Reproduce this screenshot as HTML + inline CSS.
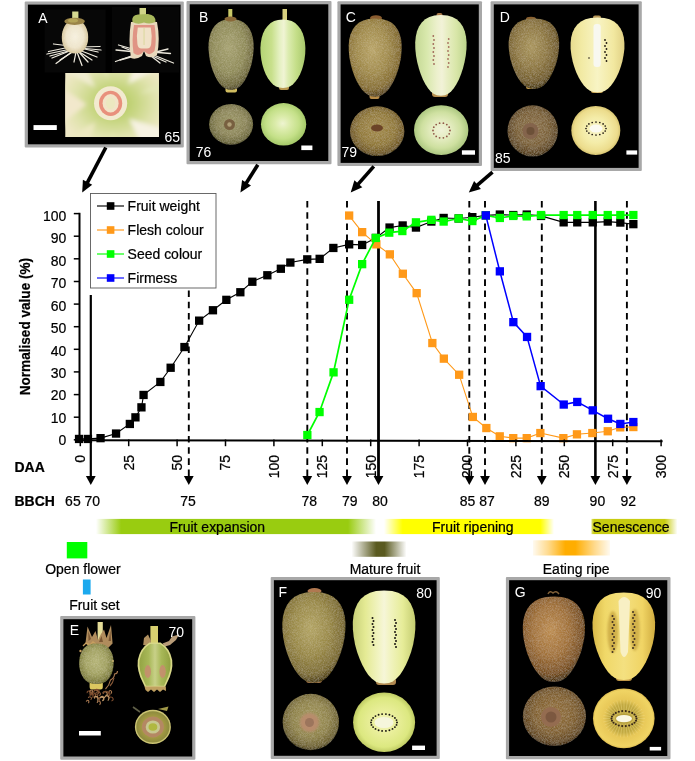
<!DOCTYPE html>
<html lang="en"><head><meta charset="utf-8"><title>Fruit development</title>
<style>html,body{margin:0;padding:0;background:#fff}svg{display:block}text{font-family:"Liberation Sans", Arial, sans-serif;font-size:14px;fill:#000;stroke:#000;stroke-width:0.22px}.b{font-weight:bold}.w{fill:#fff;stroke:none}</style>
</head><body>
<svg width="695" height="761" viewBox="0 0 695 761">
<rect width="695" height="761" fill="#fff"/>
<defs>
<linearGradient id="gExp" x1="0" x2="1" y1="0" y2="0">
<stop offset="0" stop-color="#99cc10" stop-opacity="0"/><stop offset="0.09" stop-color="#99cc10"/>
<stop offset="0.9" stop-color="#99cc10"/><stop offset="1" stop-color="#99cc10" stop-opacity="0"/></linearGradient>
<linearGradient id="gRip" x1="0" x2="1" y1="0" y2="0">
<stop offset="0" stop-color="#ffff00" stop-opacity="0"/><stop offset="0.11" stop-color="#ffff00"/>
<stop offset="0.92" stop-color="#ffff00"/><stop offset="1" stop-color="#ffff00" stop-opacity="0"/></linearGradient>
<linearGradient id="gSen" x1="0" x2="1" y1="0" y2="0">
<stop offset="0" stop-color="#c8cc10" stop-opacity="0.6"/><stop offset="0.03" stop-color="#c8cc10"/>
<stop offset="0.85" stop-color="#c8cc10"/><stop offset="1" stop-color="#c8cc10" stop-opacity="0"/></linearGradient>
<linearGradient id="gMat" x1="0" x2="1" y1="0" y2="0">
<stop offset="0" stop-color="#5a5a20" stop-opacity="0"/><stop offset="0.45" stop-color="#5a5a20"/>
<stop offset="0.6" stop-color="#5a5a20"/><stop offset="1" stop-color="#5a5a20" stop-opacity="0"/></linearGradient>
<linearGradient id="gEat" x1="0" x2="1" y1="0" y2="0">
<stop offset="0" stop-color="#ffad00" stop-opacity="0.06"/><stop offset="0.2" stop-color="#ffad00" stop-opacity="0.45"/><stop offset="0.42" stop-color="#ffad00"/>
<stop offset="0.55" stop-color="#ffad00"/><stop offset="0.8" stop-color="#ffad00" stop-opacity="0.45"/><stop offset="1" stop-color="#ffad00" stop-opacity="0.06"/></linearGradient>

<filter id="fz" x="0" y="0" width="100%" height="100%"><feTurbulence type="fractalNoise" baseFrequency="1.5" numOctaves="1" seed="3" result="n"/><feColorMatrix in="n" type="matrix" values="0 0 0 0 1  0 0 0 0 0.94  0 0 0 0 0.72  0.32 0 0 0 -0.11" result="n2"/><feComposite in="n2" in2="SourceGraphic" operator="in" result="n3"/><feMerge><feMergeNode in="SourceGraphic"/><feMergeNode in="n3"/></feMerge></filter>
<filter id="bl1" x="-20%" y="-20%" width="140%" height="140%"><feGaussianBlur stdDeviation="0.6"/></filter>
<filter id="bl2" x="-20%" y="-20%" width="140%" height="140%"><feGaussianBlur stdDeviation="2.2"/></filter>
<filter id="bl3" x="-20%" y="-20%" width="140%" height="140%"><feGaussianBlur stdDeviation="1"/></filter>
<radialGradient id="r1" cx="0.5" cy="0.5" r="0.55"><stop offset="0" stop-color="#f6f0e0"/><stop offset="0.6" stop-color="#eee4cc"/><stop offset="0.9" stop-color="#d8c8a0"/><stop offset="1" stop-color="#b09c70"/></radialGradient>
<clipPath id="cpA"><rect x="65.3" y="73" width="93.6" height="64"/></clipPath>
<radialGradient id="r2" cx="0.5" cy="0.5" r="0.5"><stop offset="0" stop-color="#b0c658"/><stop offset="0.35" stop-color="#c4d47c"/><stop offset="0.7" stop-color="#dee2aa"/><stop offset="1" stop-color="#efe8c6"/></radialGradient>
<radialGradient id="r3" cx="0.45" cy="0.4" r="0.6"><stop offset="0" stop-color="#a6a272"/><stop offset="0.6" stop-color="#8e8a58"/><stop offset="0.9" stop-color="#6e683c"/><stop offset="1" stop-color="#4a4424"/></radialGradient>
<linearGradient id="l4" x1="0" y1="0" x2="1" y2="0"><stop offset="0" stop-color="#b4d474"/><stop offset="0.25" stop-color="#c8e08c"/><stop offset="0.42" stop-color="#e4f0c0"/><stop offset="0.52" stop-color="#f0f4d4"/><stop offset="0.62" stop-color="#dcecb0"/><stop offset="0.8" stop-color="#c4de88"/><stop offset="1" stop-color="#a8c86c"/></linearGradient>
<radialGradient id="r5" cx="0.5" cy="0.45" r="0.55"><stop offset="0" stop-color="#9c9868"/><stop offset="0.6" stop-color="#8a8458"/><stop offset="0.9" stop-color="#6c683c"/><stop offset="1" stop-color="#48441c"/></radialGradient>
<radialGradient id="r6" cx="0.48" cy="0.48" r="0.52"><stop offset="0" stop-color="#eef4d0"/><stop offset="0.3" stop-color="#dcecac"/><stop offset="0.7" stop-color="#c4e088"/><stop offset="1" stop-color="#a4c868"/></radialGradient>
<radialGradient id="r7" cx="0.45" cy="0.4" r="0.6"><stop offset="0" stop-color="#b8a468"/><stop offset="0.5" stop-color="#a08a4a"/><stop offset="0.85" stop-color="#846c30"/><stop offset="1" stop-color="#54401c"/></radialGradient>
<linearGradient id="l8" x1="0" y1="0" x2="1" y2="0"><stop offset="0" stop-color="#c4d894"/><stop offset="0.22" stop-color="#d8e8ac"/><stop offset="0.42" stop-color="#ecf0cc"/><stop offset="0.52" stop-color="#f2f2d8"/><stop offset="0.62" stop-color="#e8eec4"/><stop offset="0.8" stop-color="#d8e6a8"/><stop offset="1" stop-color="#bcd48c"/></linearGradient>
<radialGradient id="r9" cx="0.5" cy="0.45" r="0.55"><stop offset="0" stop-color="#a48c4c"/><stop offset="0.6" stop-color="#907838"/><stop offset="0.9" stop-color="#705824"/><stop offset="1" stop-color="#483810"/></radialGradient>
<radialGradient id="r10" cx="0.5" cy="0.5" r="0.52"><stop offset="0" stop-color="#f0f2d8"/><stop offset="0.35" stop-color="#e4ecc0"/><stop offset="0.7" stop-color="#cee0a0"/><stop offset="1" stop-color="#a8c47c"/></radialGradient>
<radialGradient id="r11" cx="0.45" cy="0.4" r="0.6"><stop offset="0" stop-color="#a8945c"/><stop offset="0.5" stop-color="#8e7842"/><stop offset="0.85" stop-color="#705a2a"/><stop offset="1" stop-color="#44340c"/></radialGradient>
<linearGradient id="l12" x1="0" y1="0" x2="1" y2="0"><stop offset="0" stop-color="#e8dc90"/><stop offset="0.2" stop-color="#f2eaa4"/><stop offset="0.5" stop-color="#f8f4c4"/><stop offset="0.8" stop-color="#f2e8a0"/><stop offset="1" stop-color="#e0d084"/></linearGradient>
<radialGradient id="r13" cx="0.5" cy="0.45" r="0.55"><stop offset="0" stop-color="#8c7048"/><stop offset="0.6" stop-color="#7a6038"/><stop offset="0.9" stop-color="#5c4424"/><stop offset="1" stop-color="#38280c"/></radialGradient>
<radialGradient id="r14" cx="0.5" cy="0.5" r="0.52"><stop offset="0" stop-color="#f8f4c8"/><stop offset="0.5" stop-color="#f4eca8"/><stop offset="0.85" stop-color="#ecdc8c"/><stop offset="1" stop-color="#d0bc68"/></radialGradient>
<radialGradient id="r15" cx="0.48" cy="0.45" r="0.58"><stop offset="0" stop-color="#b4b478"/><stop offset="0.55" stop-color="#a0a060"/><stop offset="0.88" stop-color="#7c7c3c"/><stop offset="1" stop-color="#505018"/></radialGradient>
<linearGradient id="l16" x1="0" y1="0" x2="1" y2="0"><stop offset="0" stop-color="#94a444"/><stop offset="0.3" stop-color="#a8b858"/><stop offset="0.5" stop-color="#c8d088"/><stop offset="0.7" stop-color="#a8b858"/><stop offset="1" stop-color="#90a040"/></linearGradient>
<radialGradient id="r17" cx="0.5" cy="0.5" r="0.5"><stop offset="0.6" stop-color="#a89c44"/><stop offset="1" stop-color="#8c8a3e"/></radialGradient>
<radialGradient id="r18" cx="0.45" cy="0.4" r="0.6"><stop offset="0" stop-color="#b2a464"/><stop offset="0.5" stop-color="#988846"/><stop offset="0.85" stop-color="#7a6a30"/><stop offset="1" stop-color="#4c3e14"/></radialGradient>
<linearGradient id="l19" x1="0" y1="0" x2="1" y2="0"><stop offset="0" stop-color="#c8d078"/><stop offset="0.2" stop-color="#e4ea94"/><stop offset="0.42" stop-color="#f2f4c4"/><stop offset="0.5" stop-color="#f6f6d8"/><stop offset="0.58" stop-color="#f2f4c4"/><stop offset="0.8" stop-color="#e6ec98"/><stop offset="1" stop-color="#c4cc70"/></linearGradient>
<radialGradient id="r20" cx="0.5" cy="0.45" r="0.55"><stop offset="0" stop-color="#a4985e"/><stop offset="0.6" stop-color="#8e824a"/><stop offset="0.9" stop-color="#6c6030"/><stop offset="1" stop-color="#3c3412"/></radialGradient>
<radialGradient id="r21" cx="0.5" cy="0.5" r="0.52"><stop offset="0" stop-color="#f4f4c8"/><stop offset="0.3" stop-color="#ecf0a0"/><stop offset="0.8" stop-color="#dce880"/><stop offset="1" stop-color="#b8c45c"/></radialGradient>
<radialGradient id="r22" cx="0.45" cy="0.4" r="0.6"><stop offset="0" stop-color="#bc8c50"/><stop offset="0.5" stop-color="#a07038"/><stop offset="0.85" stop-color="#784e20"/><stop offset="1" stop-color="#442c0a"/></radialGradient>
<linearGradient id="l23" x1="0" y1="0" x2="1" y2="0"><stop offset="0" stop-color="#d8b848"/><stop offset="0.2" stop-color="#f0d868"/><stop offset="0.5" stop-color="#f4e080"/><stop offset="0.8" stop-color="#f0d464"/><stop offset="1" stop-color="#d0ac40"/></linearGradient>
<radialGradient id="r24" cx="0.5" cy="0.45" r="0.55"><stop offset="0" stop-color="#94703c"/><stop offset="0.6" stop-color="#806030"/><stop offset="0.9" stop-color="#604420"/><stop offset="1" stop-color="#382408"/></radialGradient>
<radialGradient id="r25" cx="0.5" cy="0.5" r="0.52"><stop offset="0" stop-color="#b09a38"/><stop offset="0.45" stop-color="#c2aa42"/><stop offset="0.62" stop-color="#e8c858"/><stop offset="0.9" stop-color="#f0d464"/><stop offset="1" stop-color="#d0ac44"/></radialGradient>
</defs>
<rect x="24.7" y="1.4" width="159.1" height="146.1" fill="#a8a8a8" rx="1"/>
<rect x="27.9" y="4.6" width="152.7" height="139.7" fill="#000"/>
<rect x="44.6" y="9.5" width="61" height="63" fill="#070707"/>
<rect x="112" y="7" width="67" height="65.5" fill="#060606"/>
<g stroke="#f0ece0" stroke-width="1.25" stroke-linecap="round"><line x1="70" y1="47" x2="48.5" y2="51.5"/><line x1="70" y1="46" x2="53.5" y2="44"/><line x1="71" y1="49" x2="47" y2="54"/><line x1="72" y1="50" x2="52" y2="58"/><line x1="73" y1="51" x2="56" y2="63.5"/><line x1="72" y1="50" x2="50" y2="56"/><line x1="74" y1="51" x2="60" y2="60"/><line x1="80" y1="47" x2="100" y2="46.5"/><line x1="80" y1="48" x2="98" y2="52"/><line x1="79" y1="50" x2="97" y2="57"/><line x1="78" y1="51" x2="92" y2="60"/><line x1="77" y1="52" x2="82" y2="65.5"/><line x1="78" y1="51" x2="88" y2="62"/><line x1="80" y1="48" x2="101" y2="50"/><line x1="76" y1="52" x2="74" y2="62"/></g>
<rect x="72.2" y="11.5" width="6.2" height="8" fill="#d4d890"/>
<path d="M75.0,20.0 L77.5,20.2 L79.5,20.8 L81.4,21.8 L83.0,23.1 L84.5,24.8 L85.7,26.7 L86.7,29.0 L87.5,31.4 L88.0,34.0 L88.2,36.8 L88.1,39.5 L87.8,42.1 L87.1,44.5 L86.2,46.8 L85.0,48.7 L83.5,50.4 L81.8,51.7 L79.9,52.7 L77.7,53.3 L75.0,53.5 L72.3,53.3 L70.1,52.7 L68.2,51.7 L66.5,50.4 L65.0,48.7 L63.8,46.8 L62.9,44.5 L62.2,42.1 L61.9,39.5 L61.8,36.8 L62.0,34.0 L62.5,31.4 L63.3,29.0 L64.3,26.7 L65.5,24.8 L67.0,23.1 L68.6,21.8 L70.5,20.8 L72.5,20.2Z" fill="url(#r1)" filter="url(#fz)"/>
<ellipse cx="74.6" cy="21.3" rx="10.3" ry="3.6" fill="#9a8448"/>
<ellipse cx="73" cy="20.5" rx="5" ry="2" fill="#b4a458"/>
<g stroke="#ece8dc" stroke-width="1.3" stroke-linecap="round"><line x1="136" y1="50" x2="118.5" y2="45"/><line x1="136" y1="52" x2="116" y2="50"/><line x1="137" y1="54" x2="115.5" y2="61.5"/><line x1="138" y1="55" x2="120" y2="60"/><line x1="137" y1="53" x2="122" y2="47"/><line x1="152" y1="52" x2="170.5" y2="53.5"/><line x1="151" y1="54" x2="173.5" y2="63"/><line x1="150" y1="55" x2="166" y2="62"/><line x1="152" y1="53" x2="168" y2="49"/><line x1="151" y1="56" x2="160" y2="63"/></g>
<rect x="139.5" y="8" width="6.5" height="8" fill="#d0d488"/>
<path d="M131,58 Q128,40 131,22 L157,22 Q160.5,40 157,55 Q152,59 146,56 L144,51 L142,56 Q136,60 131,58Z" fill="#e8d8bc"/>
<path d="M133.5,53 Q131.5,40 134,25 L154.5,25 Q157,40 154.5,51 Q150,56 146.5,53 L144,51 L141.5,53.5 Q138,56.5 133.5,53Z" fill="#e09484"/>
<path d="M137.4,44 Q136.2,36 137.8,27.5 L150.8,27.5 Q152.4,36 151.2,44 Q150.5,48.5 147,48.5 L141.5,48.5 Q138,48.5 137.4,44Z" fill="#f0e2c8"/>
<rect x="143.2" y="28" width="1.8" height="17" fill="#e4dcb0"/>
<path d="M132.5,22 Q131,15 138,14.5 L148,14 Q156,15 155.5,22 Q150,24.5 144,22.5 Q138,25 132.5,22Z" fill="#a8b85c"/>
<rect x="65.3" y="73" width="93.6" height="64" fill="#efe8c6"/>
<g clip-path="url(#cpA)"><g filter="url(#bl2)">
<ellipse cx="114" cy="103" rx="56" ry="46" fill="url(#r2)"/>
<path d="M86.6,104.3 L28.3,150.8 L24.5,63.2 Z" fill="#f2e8cc"/><path d="M95.3,87.5 L30.0,53.0 L63.1,21.0 Z" fill="#f0ecd0"/><path d="M107.1,79.6 L86.0,11.5 L107.3,8.4 Z" fill="#e8ecc0"/><path d="M128.0,84.0 L152.2,17.9 L191.2,53.0 Z" fill="#f6f2e0"/><path d="M129.0,118.7 L198.7,138.9 L160.9,183.9 Z" fill="#f6f2e2"/><path d="M95.5,122.0 L75.0,191.4 L31.8,156.4 Z" fill="#ece8c0"/><path d="M112.4,129.2 L127.1,196.9 L107.3,198.2 Z" fill="#e4e8b4"/><path d="M139.0,93.8 L196.7,63.2 L203.5,83.5 Z" fill="#e4e8b8"/>
</g></g>
<ellipse cx="110.6" cy="103.3" rx="16.6" ry="17" fill="#f2ead0" filter="url(#bl1)"/>
<ellipse cx="110.6" cy="103.3" rx="11.6" ry="12.6" fill="#e8907c" filter="url(#bl1)"/>
<ellipse cx="110.6" cy="103.3" rx="8" ry="9.2" fill="#f2e4c8" filter="url(#bl1)"/>
<ellipse cx="110.6" cy="103.3" rx="4.6" ry="5.8" fill="#ece8c0" filter="url(#bl1)"/>
<rect x="33.5" y="125.1" width="23.3" height="4.9" fill="#fff"/>
<text class="w" transform="translate(38.2,23.1) scale(1,1.045)" text-anchor="start">A</text>
<text class="w" transform="translate(180.0,142.0) scale(1,1.045)" text-anchor="end">65</text>
<rect x="186.5" y="1.1" width="145.0" height="163.1" fill="#a8a8a8" rx="1"/>
<rect x="189.7" y="4.3" width="138.6" height="156.7" fill="#000"/>
<text class="w" transform="translate(199.0,21.8) scale(1,1.045)" text-anchor="start">B</text>
<text class="w" transform="translate(195.8,157.0) scale(1,1.045)" text-anchor="start">76</text>
<rect x="301.3" y="145.5" width="11.1" height="4.6" fill="#fff"/>
<rect x="228.3" y="9" width="4" height="12" fill="#c8c868"/>
<rect x="225.5" y="84" width="11.5" height="8.5" rx="2" fill="#d0bc60"/>
<path d="M231.1,19.0 L236.3,19.4 L240.5,20.7 L244.1,22.8 L247.2,25.6 L249.7,29.1 L251.6,33.3 L252.9,38.0 L253.6,43.1 L253.7,48.6 L253.2,54.5 L252.3,60.4 L251.0,65.9 L249.3,71.0 L247.3,75.7 L245.1,79.9 L242.7,83.4 L240.2,86.2 L237.5,88.3 L234.6,89.6 L231.1,90.0 L227.6,89.6 L224.7,88.3 L222.0,86.2 L219.5,83.4 L217.1,79.9 L214.9,75.7 L212.9,71.0 L211.2,65.9 L209.9,60.4 L209.0,54.5 L208.5,48.6 L208.6,43.1 L209.3,38.0 L210.6,33.3 L212.5,29.1 L215.0,25.6 L218.1,22.8 L221.7,20.7 L225.9,19.4Z" fill="url(#r3)" filter="url(#fz)"/>
<ellipse cx="230.5" cy="19" rx="6" ry="2.5" fill="#8a6838"/>
<rect x="282.5" y="9" width="4.5" height="12" fill="#d8d080"/>
<rect x="279" y="84" width="10" height="6" rx="2" fill="#b89850"/>
<path d="M282.9,19.5 L287.8,19.9 L291.7,21.1 L295.2,23.1 L298.2,25.9 L300.7,29.3 L302.7,33.3 L304.1,37.8 L305.0,42.8 L305.4,48.1 L305.2,53.7 L304.5,59.4 L303.4,64.7 L301.9,69.7 L300.1,74.2 L297.9,78.2 L295.5,81.6 L292.8,84.4 L289.9,86.4 L286.7,87.6 L282.9,88.0 L279.1,87.6 L275.9,86.4 L273.0,84.4 L270.3,81.6 L267.9,78.2 L265.7,74.2 L263.9,69.7 L262.4,64.7 L261.3,59.4 L260.6,53.8 L260.4,48.1 L260.8,42.8 L261.7,37.8 L263.1,33.3 L265.1,29.3 L267.6,25.9 L270.6,23.1 L274.1,21.1 L278.0,19.9Z" fill="url(#l4)"/>
<ellipse cx="231.1" cy="124.3" rx="22" ry="20.4" fill="url(#r5)" filter="url(#fz)"/>
<circle cx="229.5" cy="124.5" r="5.5" fill="#786040"/><circle cx="229.5" cy="124.5" r="2.2" fill="#b0a078"/>
<ellipse cx="283.6" cy="124.3" rx="22.6" ry="21.2" fill="url(#r6)"/>
<rect x="337.4" y="1.2" width="144.6" height="164.9" fill="#a8a8a8" rx="1"/>
<rect x="340.6" y="4.4" width="138.2" height="158.5" fill="#000"/>
<text class="w" transform="translate(345.8,22.0) scale(1,1.045)" text-anchor="start">C</text>
<text class="w" transform="translate(341.6,157.2) scale(1,1.045)" text-anchor="start">79</text>
<rect x="461.9" y="150.3" width="13.1" height="4.4" fill="#fff"/>
<ellipse cx="376" cy="18" rx="6" ry="2.8" fill="#8a5c30"/>
<rect x="369.5" y="92" width="10" height="7" rx="2" fill="#b88c48"/>
<path d="M375.2,18.5 L382.0,19.0 L387.1,20.4 L391.4,22.6 L395.0,25.8 L397.8,29.7 L399.8,34.2 L401.2,39.4 L401.7,45.1 L401.6,51.1 L401.0,57.6 L399.7,64.1 L398.1,70.1 L396.1,75.8 L393.8,81.0 L391.2,85.5 L388.6,89.4 L385.7,92.6 L382.7,94.8 L379.4,96.2 L375.2,96.7 L371.0,96.2 L367.7,94.8 L364.7,92.6 L361.8,89.4 L359.2,85.5 L356.6,81.0 L354.3,75.8 L352.3,70.1 L350.7,64.1 L349.4,57.6 L348.8,51.1 L348.7,45.1 L349.2,39.4 L350.6,34.2 L352.6,29.7 L355.4,25.8 L359.0,22.6 L363.3,20.4 L368.4,19.0Z" fill="url(#r7)" filter="url(#fz)"/>
<rect x="436.5" y="13" width="6" height="6" rx="2" fill="#a87848"/>
<rect x="432" y="90" width="16" height="7" rx="3" fill="#b89050"/>
<path d="M440.9,15.0 L447.5,15.5 L452.4,16.9 L456.6,19.3 L460.0,22.5 L462.8,26.5 L464.8,31.3 L466.0,36.6 L466.6,42.4 L466.5,48.7 L465.8,55.3 L464.6,62.0 L463.0,68.3 L461.1,74.1 L458.9,79.4 L456.4,84.2 L453.8,88.2 L451.1,91.4 L448.2,93.8 L445.0,95.2 L440.9,95.7 L436.8,95.2 L433.6,93.8 L430.7,91.4 L428.0,88.2 L425.4,84.2 L422.9,79.4 L420.7,74.1 L418.8,68.3 L417.2,62.0 L416.0,55.4 L415.3,48.7 L415.2,42.4 L415.8,36.6 L417.0,31.3 L419.0,26.5 L421.8,22.5 L425.2,19.3 L429.4,16.9 L434.3,15.5Z" fill="url(#l8)"/>
<circle cx="433.3" cy="36" r="0.9" fill="#a06858"/><circle cx="448.7" cy="39" r="0.9" fill="#a87060"/><circle cx="434.0" cy="40" r="0.9" fill="#a06858"/><circle cx="448.0" cy="43" r="0.9" fill="#a87060"/><circle cx="433.3" cy="44" r="0.9" fill="#a06858"/><circle cx="448.7" cy="47" r="0.9" fill="#a87060"/><circle cx="434.0" cy="48" r="0.9" fill="#a06858"/><circle cx="448.0" cy="51" r="0.9" fill="#a87060"/><circle cx="433.3" cy="52" r="0.9" fill="#a06858"/><circle cx="448.7" cy="55" r="0.9" fill="#a87060"/><circle cx="434.0" cy="56" r="0.9" fill="#a06858"/><circle cx="448.0" cy="59" r="0.9" fill="#a87060"/><circle cx="433.3" cy="60" r="0.9" fill="#a06858"/><circle cx="448.7" cy="63" r="0.9" fill="#a87060"/><circle cx="434.0" cy="64" r="0.9" fill="#a06858"/><circle cx="448.0" cy="67" r="0.9" fill="#a87060"/>
<ellipse cx="377.2" cy="131.2" rx="27.2" ry="24.9" fill="url(#r9)" filter="url(#fz)"/>
<ellipse cx="377" cy="128" rx="6" ry="3.5" fill="#6c4428"/>
<ellipse cx="441.2" cy="130.1" rx="27.2" ry="24.9" fill="url(#r10)"/>
<circle cx="450.0" cy="130.5" r="0.9" fill="#905848"/><circle cx="449.2" cy="133.8" r="0.9" fill="#905848"/><circle cx="446.8" cy="136.4" r="0.9" fill="#905848"/><circle cx="443.4" cy="137.8" r="0.9" fill="#905848"/><circle cx="439.6" cy="137.8" r="0.9" fill="#905848"/><circle cx="436.2" cy="136.4" r="0.9" fill="#905848"/><circle cx="433.8" cy="133.8" r="0.9" fill="#905848"/><circle cx="433.0" cy="130.5" r="0.9" fill="#905848"/><circle cx="433.8" cy="127.2" r="0.9" fill="#905848"/><circle cx="436.2" cy="124.6" r="0.9" fill="#905848"/><circle cx="439.6" cy="123.2" r="0.9" fill="#905848"/><circle cx="443.4" cy="123.2" r="0.9" fill="#905848"/><circle cx="446.8" cy="124.6" r="0.9" fill="#905848"/><circle cx="449.2" cy="127.2" r="0.9" fill="#905848"/>
<rect x="490.6" y="1.2" width="151.2" height="169.9" fill="#a8a8a8" rx="1"/>
<rect x="493.8" y="4.4" width="144.8" height="163.5" fill="#000"/>
<text class="w" transform="translate(499.8,22.0) scale(1,1.045)" text-anchor="start">D</text>
<text class="w" transform="translate(494.9,162.6) scale(1,1.045)" text-anchor="start">85</text>
<rect x="626.4" y="150.4" width="10.8" height="4.2" fill="#fff"/>
<ellipse cx="531" cy="19" rx="5" ry="2.2" fill="#8a6030"/>
<rect x="526" y="82" width="10" height="7" rx="2" fill="#c09848"/>
<path d="M533.9,18.5 L540.4,18.9 L545.3,20.2 L549.4,22.2 L552.7,25.1 L555.4,28.6 L557.4,32.7 L558.6,37.4 L559.2,42.5 L559.1,47.9 L558.4,53.7 L557.3,59.6 L555.7,65.0 L553.8,70.1 L551.6,74.8 L549.2,78.9 L546.6,82.4 L543.9,85.3 L541.0,87.3 L537.9,88.6 L533.9,89.0 L529.9,88.6 L526.8,87.3 L523.9,85.3 L521.2,82.4 L518.6,78.9 L516.2,74.8 L514.0,70.1 L512.1,65.0 L510.5,59.6 L509.4,53.8 L508.7,47.9 L508.6,42.5 L509.2,37.4 L510.4,32.7 L512.4,28.6 L515.1,25.1 L518.4,22.2 L522.5,20.2 L527.4,18.9Z" fill="url(#r11)" filter="url(#fz)"/>
<rect x="591" y="86" width="12" height="7" rx="2" fill="#c8a050"/><rect x="593" y="15.5" width="8" height="5" rx="2" fill="#b89858"/>
<path d="M597.5,17.5 L604.4,17.9 L609.6,19.3 L614.0,21.5 L617.6,24.5 L620.4,28.2 L622.5,32.6 L623.8,37.6 L624.4,43.0 L624.4,48.8 L623.6,55.0 L622.4,61.2 L620.7,67.0 L618.7,72.4 L616.3,77.4 L613.8,81.8 L611.1,85.5 L608.2,88.5 L605.1,90.7 L601.8,92.1 L597.5,92.5 L593.2,92.1 L589.9,90.7 L586.8,88.5 L583.9,85.5 L581.2,81.8 L578.7,77.4 L576.3,72.4 L574.3,67.0 L572.6,61.2 L571.4,55.0 L570.6,48.8 L570.6,43.0 L571.2,37.6 L572.5,32.6 L574.6,28.2 L577.4,24.5 L581.0,21.5 L585.4,19.3 L590.6,17.9Z" fill="url(#l12)"/>
<rect x="593.5" y="24" width="7.2" height="43" rx="3" fill="#f8f8f0"/>
<circle cx="605.0" cy="40" r="0.9" fill="#201810"/><circle cx="606.5" cy="43" r="0.9" fill="#201810"/><circle cx="605.0" cy="46" r="0.9" fill="#201810"/><circle cx="606.5" cy="49" r="0.9" fill="#201810"/><circle cx="605.0" cy="52" r="0.9" fill="#201810"/><circle cx="606.5" cy="55" r="0.9" fill="#201810"/><circle cx="605.0" cy="58" r="0.9" fill="#201810"/><circle cx="606.5" cy="61" r="0.9" fill="#201810"/>
<circle cx="589" cy="58" r="0.8" fill="#201810"/>
<ellipse cx="532.7" cy="130.9" rx="25.2" ry="25.7" fill="url(#r13)" filter="url(#fz)"/>
<circle cx="530.5" cy="131" r="8" fill="#84644c"/><circle cx="530.5" cy="131" r="4" fill="#6c5038"/>
<ellipse cx="595.8" cy="130.4" rx="24.5" ry="24.5" fill="url(#r14)"/>
<ellipse cx="596" cy="128.5" rx="6.5" ry="4" fill="#fbfaf0"/>
<circle cx="606.0" cy="128.5" r="0.85" fill="#201810"/><circle cx="605.2" cy="131.0" r="0.85" fill="#201810"/><circle cx="603.1" cy="133.1" r="0.85" fill="#201810"/><circle cx="599.8" cy="134.5" r="0.85" fill="#201810"/><circle cx="596.0" cy="135.0" r="0.85" fill="#201810"/><circle cx="592.2" cy="134.5" r="0.85" fill="#201810"/><circle cx="588.9" cy="133.1" r="0.85" fill="#201810"/><circle cx="586.8" cy="131.0" r="0.85" fill="#201810"/><circle cx="586.0" cy="128.5" r="0.85" fill="#201810"/><circle cx="586.8" cy="126.0" r="0.85" fill="#201810"/><circle cx="588.9" cy="123.9" r="0.85" fill="#201810"/><circle cx="592.2" cy="122.5" r="0.85" fill="#201810"/><circle cx="596.0" cy="122.0" r="0.85" fill="#201810"/><circle cx="599.8" cy="122.5" r="0.85" fill="#201810"/><circle cx="603.1" cy="123.9" r="0.85" fill="#201810"/><circle cx="605.2" cy="126.0" r="0.85" fill="#201810"/>
<rect x="60.2" y="616" width="135.2" height="143.7" fill="#a8a8a8" rx="1"/>
<rect x="63.4" y="619.2" width="128.8" height="137.3" fill="#000"/>
<rect x="79" y="731" width="21.8" height="4.5" fill="#fff"/>
<rect x="97.6" y="622" width="5.2" height="20" fill="#e4dc98"/>
<path d="M85.5,643 L87.5,626.5 L92,637 L95.5,631 L98,640 L101,634 L104,629.5 L106.5,638 L111,625 L112.6,643.5 L108,648 L90,648 Z" fill="#b08c5c"/>
<path d="M88.5,641 L88.2,631 L91,639 Z M108.5,641 L110.5,630 L111,641 Z M99,642 L101.5,636 L103,642Z" fill="#7c5834"/>
<path d="M83,646 l3,-3 l4,2 l3,-3 l4,3" stroke="#c8a060" stroke-width="1.4" fill="none"/>
<rect x="89.6" y="680" width="13.2" height="9.5" rx="2.5" fill="#dcc860"/>
<g fill="none" stroke-width="1.1"><path d="M93.8,692.1 a2.5,2.0 26 1 1 3.0,2.2" stroke="#8a5a38"/><path d="M94.8,690.8 a2.2,1.8 13 1 1 2.7,2.0" stroke="#7a4a2c"/><path d="M96.0,693.4 a2.3,1.8 21 1 1 2.8,2.1" stroke="#8a5a38"/><path d="M108.7,698.8 a2.3,1.9 22 1 1 2.8,2.1" stroke="#7a4a2c"/><path d="M87.2,693.1 a2.3,1.8 47 1 1 2.8,2.1" stroke="#7a4a2c"/><path d="M89.5,691.6 a1.9,1.5 293 1 1 2.2,1.7" stroke="#a87850"/><path d="M88.5,698.0 a1.6,1.3 35 1 1 2.0,1.5" stroke="#8a5a38"/><path d="M99.5,698.7 a2.2,1.8 191 1 1 2.6,2.0" stroke="#c09868"/><path d="M97.2,702.9 a2.0,1.6 89 1 1 2.3,1.8" stroke="#a87850"/><path d="M102.8,693.4 a2.3,1.9 189 1 1 2.8,2.1" stroke="#c09868"/><path d="M103.5,694.0 a3.1,2.5 42 1 1 3.7,2.8" stroke="#7a4a2c"/><path d="M90.0,694.8 a3.0,2.4 151 1 1 3.6,2.7" stroke="#8a5a38"/><path d="M104.3,698.0 a2.9,2.3 112 1 1 3.5,2.6" stroke="#c09868"/><path d="M100.3,698.1 a2.1,1.7 302 1 1 2.5,1.9" stroke="#c09868"/><path d="M97.4,699.3 a1.4,1.1 252 1 1 1.7,1.3" stroke="#7a4a2c"/><path d="M92.8,695.4 a2.5,2.0 8 1 1 3.0,2.3" stroke="#7a4a2c"/><path d="M94.5,698.6 a2.2,1.8 78 1 1 2.6,2.0" stroke="#c09868"/><path d="M89.1,693.5 a2.0,1.6 313 1 1 2.4,1.8" stroke="#8a5a38"/><path d="M90.0,695.6 a1.8,1.4 49 1 1 2.2,1.6" stroke="#7a4a2c"/><path d="M106.7,693.9 a2.0,1.6 129 1 1 2.5,1.8" stroke="#7a4a2c"/><path d="M109.0,692.1 a1.6,1.3 83 1 1 1.9,1.5" stroke="#a87850"/><path d="M86.3,701.6 a1.6,1.3 101 1 1 2.0,1.5" stroke="#a87850"/><path d="M105.5,689 q4,-4 5,-9 q4,-2 4,-6 q3,0 3,-3" stroke="#a87850"/><path d="M110,686 q3,-3 4,-8" stroke="#8a5a38"/></g>
<path d="M96.4,643.5 L100.4,643.7 L103.3,644.5 L105.8,645.6 L107.9,647.3 L109.7,649.3 L111.2,651.7 L112.3,654.3 L113.1,657.3 L113.5,660.4 L113.6,663.8 L113.4,667.1 L112.8,670.2 L111.9,673.2 L110.7,675.8 L109.2,678.2 L107.4,680.2 L105.3,681.9 L102.9,683.0 L100.2,683.8 L96.4,684.0 L92.6,683.8 L89.9,683.0 L87.5,681.9 L85.4,680.2 L83.6,678.2 L82.1,675.8 L80.9,673.2 L80.0,670.2 L79.4,667.1 L79.2,663.8 L79.3,660.4 L79.7,657.3 L80.5,654.3 L81.6,651.7 L83.1,649.3 L84.9,647.3 L87.0,645.6 L89.5,644.5 L92.4,643.7Z" fill="url(#r15)" filter="url(#fz)"/>
<circle cx="80.5" cy="651" r="1.2" fill="#c8a060"/><circle cx="113" cy="661" r="1" fill="#c8b070"/>
<rect x="150.4" y="626" width="7.6" height="17" fill="#d8d070"/>
<path d="M143.2,645 L144,638 L148,634.5 L151,641 L150,646Z" fill="#b09060"/>
<path d="M162.5,643.5 L169,641 L172,636.5 L179,634.5 L176,640 L170,645 L165,646.5Z" fill="#b89c78"/>
<path d="M149.5,642.5 L160.5,642.5 Q170,648 172.2,660 Q173.5,671 167,683 L165,687.3 L145,687.3 L143,683 Q136.5,671 137.8,660 Q140,648 149.5,642.5Z" fill="#d8d888"/>
<path d="M149.5,642.5 L160.5,642.5 Q170,648 172.2,660 Q173.5,671 167,683 L165,687.3 L145,687.3 L143,683 Q136.5,671 137.8,660 Q140,648 149.5,642.5Z" fill="url(#l16)" transform="translate(155,665) scale(0.9,0.93) translate(-155,-665)"/>
<ellipse cx="147.8" cy="671.5" rx="3.2" ry="6.5" fill="#c88c70" opacity="0.85" filter="url(#bl1)"/><ellipse cx="162.6" cy="671.5" rx="3.2" ry="6.5" fill="#c88c70" opacity="0.85" filter="url(#bl1)"/>
<path d="M144.5,686.5 L165.8,686.5 L166,691 L163,689.5 L160,692 L157,689.5 L154,692 L151,689.5 L148,692 L145.5,690Z" fill="#c0a060"/>
<path d="M133,707 L140,712" stroke="#606048" stroke-width="1.6"/><path d="M158,709 L168.5,706.5 L167,711 Z" fill="#a09848"/>
<ellipse cx="152.9" cy="726.9" rx="18" ry="17.1" fill="#ccc474"/>
<ellipse cx="152.9" cy="726.9" rx="16.6" ry="15.7" fill="url(#r17)"/>
<ellipse cx="152.9" cy="727" rx="11" ry="10.4" fill="#b48864" filter="url(#bl1)"/>
<ellipse cx="152.9" cy="727" rx="7.2" ry="6.6" fill="#c8c890" filter="url(#bl1)"/>
<ellipse cx="152.9" cy="727" rx="4.4" ry="3.8" fill="#b0b840"/>
<text class="w" transform="translate(69.7,635.2) scale(1,1.045)" text-anchor="start">E</text>
<text class="w" transform="translate(184.0,637.4) scale(1,1.045)" text-anchor="end">70</text>
<rect x="270.7" y="577" width="169.1" height="182.0" fill="#a8a8a8" rx="1"/>
<rect x="273.9" y="580.2" width="162.7" height="175.6" fill="#000"/>
<text class="w" transform="translate(278.6,597.2) scale(1,1.045)" text-anchor="start">F</text>
<text class="w" transform="translate(431.9,598.4) scale(1,1.045)" text-anchor="end">80</text>
<rect x="412.1" y="745.6" width="12.9" height="4.4" fill="#fff"/>
<ellipse cx="314.5" cy="591" rx="7" ry="3" fill="#b07850"/>
<rect x="306" y="676" width="16" height="7" rx="3" fill="#a87848"/>
<path d="M313.9,592.0 L322.0,592.5 L328.1,594.2 L333.2,596.8 L337.5,600.4 L340.8,604.9 L343.2,610.3 L344.8,616.3 L345.5,622.8 L345.4,629.8 L344.6,637.4 L343.1,644.9 L341.1,651.9 L338.7,658.4 L336.0,664.4 L333.0,669.8 L329.8,674.3 L326.4,677.9 L322.8,680.5 L318.9,682.2 L313.9,682.7 L308.9,682.2 L305.0,680.5 L301.4,677.9 L298.0,674.3 L294.8,669.8 L291.8,664.4 L289.1,658.4 L286.7,651.9 L284.7,644.9 L283.2,637.4 L282.4,629.8 L282.3,622.8 L283.0,616.3 L284.6,610.3 L287.0,604.9 L290.3,600.4 L294.6,596.8 L299.7,594.2 L305.8,592.5Z" fill="url(#r18)" filter="url(#fz)"/>
<rect x="376" y="678" width="20" height="7" rx="3" fill="#b08850"/>
<path d="M384.1,590.5 L392.2,591.1 L398.2,592.7 L403.3,595.4 L407.5,599.1 L410.8,603.8 L413.2,609.2 L414.7,615.4 L415.4,622.1 L415.3,629.3 L414.5,637.0 L413.1,644.7 L411.1,651.9 L408.7,658.6 L406.0,664.8 L403.0,670.2 L399.9,674.9 L396.5,678.6 L393.0,681.3 L389.1,682.9 L384.1,683.5 L379.1,682.9 L375.2,681.3 L371.7,678.6 L368.3,674.9 L365.2,670.2 L362.2,664.8 L359.5,658.6 L357.1,651.9 L355.1,644.7 L353.7,637.0 L352.9,629.3 L352.8,622.1 L353.5,615.4 L355.0,609.2 L357.4,603.8 L360.7,599.1 L364.9,595.4 L370.0,592.7 L376.0,591.1Z" fill="url(#l19)"/>
<circle cx="372.5" cy="618" r="1" fill="#181410"/><circle cx="395.0" cy="620" r="1" fill="#181410"/><circle cx="373.5" cy="621" r="1" fill="#181410"/><circle cx="396.0" cy="623" r="1" fill="#181410"/><circle cx="372.5" cy="624" r="1" fill="#181410"/><circle cx="395.0" cy="626" r="1" fill="#181410"/><circle cx="373.5" cy="627" r="1" fill="#181410"/><circle cx="396.0" cy="629" r="1" fill="#181410"/><circle cx="372.5" cy="630" r="1" fill="#181410"/><circle cx="395.0" cy="632" r="1" fill="#181410"/><circle cx="373.5" cy="633" r="1" fill="#181410"/><circle cx="396.0" cy="635" r="1" fill="#181410"/><circle cx="372.5" cy="636" r="1" fill="#181410"/><circle cx="395.0" cy="638" r="1" fill="#181410"/><circle cx="373.5" cy="639" r="1" fill="#181410"/><circle cx="396.0" cy="641" r="1" fill="#181410"/><circle cx="372.5" cy="642" r="1" fill="#181410"/><circle cx="395.0" cy="644" r="1" fill="#181410"/><circle cx="373.5" cy="645" r="1" fill="#181410"/><circle cx="396.0" cy="647" r="1" fill="#181410"/>
<ellipse cx="310.8" cy="722" rx="28.2" ry="28.2" fill="url(#r20)" filter="url(#fz)"/>
<circle cx="309.5" cy="722.5" r="9.5" fill="#b88c6c" filter="url(#bl3)"/><circle cx="309.5" cy="722.5" r="4.5" fill="#9c745c" filter="url(#bl1)"/>
<ellipse cx="384.1" cy="722.3" rx="31" ry="29.8" fill="url(#r21)"/>
<ellipse cx="384" cy="722.5" rx="9.5" ry="5.5" fill="#f6f6dc"/>
<circle cx="397.0" cy="722.5" r="0.95" fill="#181410"/><circle cx="396.5" cy="724.9" r="0.95" fill="#181410"/><circle cx="394.9" cy="727.1" r="0.95" fill="#181410"/><circle cx="392.5" cy="728.9" r="0.95" fill="#181410"/><circle cx="389.4" cy="730.2" r="0.95" fill="#181410"/><circle cx="385.9" cy="730.9" r="0.95" fill="#181410"/><circle cx="382.1" cy="730.9" r="0.95" fill="#181410"/><circle cx="378.6" cy="730.2" r="0.95" fill="#181410"/><circle cx="375.5" cy="728.9" r="0.95" fill="#181410"/><circle cx="373.1" cy="727.1" r="0.95" fill="#181410"/><circle cx="371.5" cy="724.9" r="0.95" fill="#181410"/><circle cx="371.0" cy="722.5" r="0.95" fill="#181410"/><circle cx="371.5" cy="720.1" r="0.95" fill="#181410"/><circle cx="373.1" cy="717.9" r="0.95" fill="#181410"/><circle cx="375.5" cy="716.1" r="0.95" fill="#181410"/><circle cx="378.6" cy="714.8" r="0.95" fill="#181410"/><circle cx="382.1" cy="714.1" r="0.95" fill="#181410"/><circle cx="385.9" cy="714.1" r="0.95" fill="#181410"/><circle cx="389.4" cy="714.8" r="0.95" fill="#181410"/><circle cx="392.5" cy="716.1" r="0.95" fill="#181410"/><circle cx="394.9" cy="717.9" r="0.95" fill="#181410"/><circle cx="396.5" cy="720.1" r="0.95" fill="#181410"/>
<rect x="505.9" y="577" width="164.6" height="182.2" fill="#a8a8a8" rx="1"/>
<rect x="509.1" y="580.2" width="158.2" height="175.8" fill="#000"/>
<text class="w" transform="translate(514.8,597.4) scale(1,1.045)" text-anchor="start">G</text>
<text class="w" transform="translate(661.2,598.4) scale(1,1.045)" text-anchor="end">90</text>
<rect x="649.7" y="746.9" width="11.4" height="3.6" fill="#fff"/>
<rect x="505.7" y="577.8" width="0" height="0"/>
<path d="M548,594 q2,-4 5,-1 q3,-3 6,1" stroke="#806038" stroke-width="1.5" fill="none"/>
<rect x="548" y="674" width="12" height="7" rx="3" fill="#906430"/>
<path d="M553.9,596.5 L561.9,597.0 L567.9,598.5 L572.9,601.0 L577.1,604.4 L580.4,608.7 L582.8,613.7 L584.3,619.4 L585.0,625.6 L584.9,632.2 L584.1,639.2 L582.6,646.3 L580.7,652.9 L578.3,659.1 L575.6,664.8 L572.7,669.8 L569.5,674.1 L566.2,677.5 L562.7,680.0 L558.8,681.5 L553.9,682.0 L549.0,681.5 L545.1,680.0 L541.6,677.5 L538.3,674.1 L535.1,669.8 L532.2,664.8 L529.5,659.1 L527.1,652.9 L525.2,646.3 L523.7,639.2 L522.9,632.2 L522.8,625.6 L523.5,619.4 L525.0,613.7 L527.4,608.7 L530.7,604.4 L534.9,601.0 L539.9,598.5 L545.9,597.0Z" fill="url(#r22)" filter="url(#fz)"/>
<rect x="616" y="674" width="16" height="7" rx="3" fill="#c09848"/>
<path d="M623.8,592.5 L631.9,593.0 L637.9,594.6 L643.0,597.1 L647.2,600.6 L650.5,605.0 L652.9,610.1 L654.4,615.9 L655.1,622.2 L655.0,629.0 L654.2,636.2 L652.8,643.5 L650.8,650.3 L648.4,656.6 L645.7,662.4 L642.7,667.5 L639.6,671.9 L636.2,675.4 L632.7,677.9 L628.8,679.5 L623.8,680.0 L618.8,679.5 L614.9,677.9 L611.4,675.4 L608.0,671.9 L604.9,667.5 L601.9,662.4 L599.2,656.6 L596.8,650.3 L594.8,643.5 L593.4,636.2 L592.6,629.0 L592.5,622.2 L593.2,615.9 L594.7,610.1 L597.1,605.0 L600.4,600.6 L604.6,597.1 L609.7,594.6 L615.7,593.0Z" fill="url(#l23)"/>
<ellipse cx="612.8" cy="632" rx="5.5" ry="21" fill="#d2b24c" filter="url(#bl3)"/><ellipse cx="634.8" cy="630" rx="5" ry="21" fill="#d2b24c" filter="url(#bl3)"/>
<path d="M618.5,601 Q624,593 630,601 L628,652 Q624,662 620.5,652 Z" fill="#f8f0c4"/>
<circle cx="612.5" cy="616" r="1" fill="#403020"/><circle cx="633.0" cy="612" r="1" fill="#403020"/><circle cx="614.0" cy="619" r="1" fill="#403020"/><circle cx="634.5" cy="615" r="1" fill="#403020"/><circle cx="612.5" cy="622" r="1" fill="#403020"/><circle cx="633.0" cy="618" r="1" fill="#403020"/><circle cx="614.0" cy="625" r="1" fill="#403020"/><circle cx="634.5" cy="621" r="1" fill="#403020"/><circle cx="612.5" cy="628" r="1" fill="#403020"/><circle cx="633.0" cy="624" r="1" fill="#403020"/><circle cx="614.0" cy="631" r="1" fill="#403020"/><circle cx="634.5" cy="627" r="1" fill="#403020"/><circle cx="612.5" cy="634" r="1" fill="#403020"/><circle cx="633.0" cy="630" r="1" fill="#403020"/><circle cx="614.0" cy="637" r="1" fill="#403020"/><circle cx="634.5" cy="633" r="1" fill="#403020"/><circle cx="612.5" cy="640" r="1" fill="#403020"/><circle cx="633.0" cy="636" r="1" fill="#403020"/><circle cx="614.0" cy="643" r="1" fill="#403020"/><circle cx="634.5" cy="639" r="1" fill="#403020"/><circle cx="612.5" cy="646" r="1" fill="#403020"/><circle cx="633.0" cy="642" r="1" fill="#403020"/><circle cx="614.0" cy="649" r="1" fill="#403020"/><circle cx="634.5" cy="645" r="1" fill="#403020"/><circle cx="612.5" cy="652" r="1" fill="#403020"/><circle cx="633.0" cy="648" r="1" fill="#403020"/>
<ellipse cx="554.4" cy="716.3" rx="31.6" ry="29.8" fill="url(#r24)" filter="url(#fz)"/>
<circle cx="551" cy="717" r="10" fill="#946c50"/><circle cx="551" cy="717" r="5.5" fill="#7c5840"/>
<ellipse cx="623.8" cy="718.4" rx="30.8" ry="29.8" fill="url(#r25)"/>
<g stroke="#f0dc88" stroke-width="0.5" opacity="0.8"><line x1="633.0" y1="718.6" x2="645.0" y2="718.6"/><line x1="632.9" y1="719.5" x2="644.7" y2="721.9"/><line x1="632.5" y1="720.3" x2="643.7" y2="725.1"/><line x1="631.8" y1="721.1" x2="642.2" y2="728.1"/><line x1="630.9" y1="721.8" x2="640.1" y2="730.8"/><line x1="629.8" y1="722.4" x2="637.5" y2="733.2"/><line x1="628.5" y1="722.9" x2="634.5" y2="735.1"/><line x1="627.1" y1="723.3" x2="631.2" y2="736.5"/><line x1="625.6" y1="723.5" x2="627.6" y2="737.3"/><line x1="624.0" y1="723.6" x2="624.0" y2="737.6"/><line x1="622.4" y1="723.5" x2="620.4" y2="737.3"/><line x1="620.9" y1="723.3" x2="616.8" y2="736.5"/><line x1="619.5" y1="722.9" x2="613.5" y2="735.1"/><line x1="618.2" y1="722.4" x2="610.5" y2="733.2"/><line x1="617.1" y1="721.8" x2="607.9" y2="730.8"/><line x1="616.2" y1="721.1" x2="605.8" y2="728.1"/><line x1="615.5" y1="720.3" x2="604.3" y2="725.1"/><line x1="615.1" y1="719.5" x2="603.3" y2="721.9"/><line x1="615.0" y1="718.6" x2="603.0" y2="718.6"/><line x1="615.1" y1="717.7" x2="603.3" y2="715.3"/><line x1="615.5" y1="716.9" x2="604.3" y2="712.1"/><line x1="616.2" y1="716.1" x2="605.8" y2="709.1"/><line x1="617.1" y1="715.4" x2="607.9" y2="706.4"/><line x1="618.2" y1="714.8" x2="610.5" y2="704.0"/><line x1="619.5" y1="714.3" x2="613.5" y2="702.1"/><line x1="620.9" y1="713.9" x2="616.8" y2="700.7"/><line x1="622.4" y1="713.7" x2="620.4" y2="699.9"/><line x1="624.0" y1="713.6" x2="624.0" y2="699.6"/><line x1="625.6" y1="713.7" x2="627.6" y2="699.9"/><line x1="627.1" y1="713.9" x2="631.2" y2="700.7"/><line x1="628.5" y1="714.3" x2="634.5" y2="702.1"/><line x1="629.8" y1="714.8" x2="637.5" y2="704.0"/><line x1="630.9" y1="715.4" x2="640.1" y2="706.4"/><line x1="631.8" y1="716.1" x2="642.2" y2="709.1"/><line x1="632.5" y1="716.9" x2="643.7" y2="712.1"/><line x1="632.9" y1="717.7" x2="644.7" y2="715.3"/></g>
<ellipse cx="624" cy="718.6" rx="8" ry="3.6" fill="#fbf8e4"/>
<circle cx="636.5" cy="718.6" r="1.05" fill="#382818"/><circle cx="636.0" cy="720.7" r="1.05" fill="#382818"/><circle cx="634.5" cy="722.7" r="1.05" fill="#382818"/><circle cx="632.2" cy="724.3" r="1.05" fill="#382818"/><circle cx="629.2" cy="725.5" r="1.05" fill="#382818"/><circle cx="625.8" cy="726.1" r="1.05" fill="#382818"/><circle cx="622.2" cy="726.1" r="1.05" fill="#382818"/><circle cx="618.8" cy="725.5" r="1.05" fill="#382818"/><circle cx="615.8" cy="724.3" r="1.05" fill="#382818"/><circle cx="613.5" cy="722.7" r="1.05" fill="#382818"/><circle cx="612.0" cy="720.7" r="1.05" fill="#382818"/><circle cx="611.5" cy="718.6" r="1.05" fill="#382818"/><circle cx="612.0" cy="716.5" r="1.05" fill="#382818"/><circle cx="613.5" cy="714.5" r="1.05" fill="#382818"/><circle cx="615.8" cy="712.9" r="1.05" fill="#382818"/><circle cx="618.8" cy="711.7" r="1.05" fill="#382818"/><circle cx="622.2" cy="711.1" r="1.05" fill="#382818"/><circle cx="625.8" cy="711.1" r="1.05" fill="#382818"/><circle cx="629.2" cy="711.7" r="1.05" fill="#382818"/><circle cx="632.2" cy="712.9" r="1.05" fill="#382818"/><circle cx="634.5" cy="714.5" r="1.05" fill="#382818"/><circle cx="636.0" cy="716.5" r="1.05" fill="#382818"/>
<g id="chart">
<line x1="90.8" y1="295" x2="90.8" y2="476.5" stroke="#000" stroke-width="2.2"/><polygon points="85.89999999999999,476 95.7,476 90.8,485" fill="#000"/>
<line x1="188.8" y1="201" x2="188.8" y2="476.5" stroke="#000" stroke-width="1.9" stroke-dasharray="6.6 4.5875"/><polygon points="183.9,476 193.70000000000002,476 188.8,485" fill="#000"/>
<line x1="307.3" y1="201" x2="307.3" y2="476.5" stroke="#000" stroke-width="1.9" stroke-dasharray="6.6 4.5875"/><polygon points="302.40000000000003,476 312.2,476 307.3,485" fill="#000"/>
<line x1="347" y1="201" x2="347" y2="476.5" stroke="#000" stroke-width="1.9" stroke-dasharray="6.6 4.5875"/><polygon points="342.1,476 351.9,476 347,485" fill="#000"/>
<line x1="469.3" y1="201" x2="469.3" y2="476.5" stroke="#000" stroke-width="1.9" stroke-dasharray="6.6 4.5875"/><polygon points="464.40000000000003,476 474.2,476 469.3,485" fill="#000"/>
<line x1="485" y1="201" x2="485" y2="476.5" stroke="#000" stroke-width="1.9" stroke-dasharray="6.6 4.5875"/><polygon points="480.1,476 489.9,476 485,485" fill="#000"/>
<line x1="541.8" y1="201" x2="541.8" y2="476.5" stroke="#000" stroke-width="1.9" stroke-dasharray="6.6 4.5875"/><polygon points="536.9,476 546.6999999999999,476 541.8,485" fill="#000"/>
<line x1="626.9" y1="201" x2="626.9" y2="476.5" stroke="#000" stroke-width="1.9" stroke-dasharray="6.6 4.5875"/><polygon points="622.0,476 631.8,476 626.9,485" fill="#000"/>
<line x1="378.5" y1="201" x2="378.5" y2="476.5" stroke="#000" stroke-width="2.8"/><polygon points="373.6,476 383.4,476 378.5,485" fill="#000"/>
<line x1="595.4" y1="201" x2="595.4" y2="476.5" stroke="#000" stroke-width="2.6"/><polygon points="590.5,476 600.3,476 595.4,485" fill="#000"/>
<polyline fill="none" stroke="#000" stroke-width="1.1" points="79.1,438.9 87.9,438.9 100.6,438.1 116.1,433.5 129.8,423.9 135.5,417.4 141.5,407.3 143.6,394.9 160.4,381.9 170.7,367.7 184.5,347.0 199.2,320.6 213.0,310.2 226.4,299.8 240.3,292.2 252.3,281.7 267.3,275.2 280.8,268.7 290.3,262.5 307.2,259.4 319.6,258.9 333.3,248.0 349.1,244.4 362.1,244.9 375.8,238.0 389.5,227.6 402.6,225.5 415.9,227.6 431.4,221.6 443.6,218.0 458.6,218.5 472.4,217.2 485.8,215.4 499.8,214.6 513.3,215.1 526.8,214.6 541.0,215.9 563.6,222.4 577.2,222.4 592.7,222.4 607.7,221.6 620.4,222.6 633.4,224.2"/><rect x="74.9" y="434.8" width="8.3" height="8.3" fill="#000"/><rect x="83.8" y="434.8" width="8.3" height="8.3" fill="#000"/><rect x="96.4" y="434.0" width="8.3" height="8.3" fill="#000"/><rect x="111.9" y="429.4" width="8.3" height="8.3" fill="#000"/><rect x="125.7" y="419.8" width="8.3" height="8.3" fill="#000"/><rect x="131.3" y="413.2" width="8.3" height="8.3" fill="#000"/><rect x="137.3" y="403.2" width="8.3" height="8.3" fill="#000"/><rect x="139.4" y="390.8" width="8.3" height="8.3" fill="#000"/><rect x="156.2" y="377.8" width="8.3" height="8.3" fill="#000"/><rect x="166.5" y="363.6" width="8.3" height="8.3" fill="#000"/><rect x="180.3" y="342.9" width="8.3" height="8.3" fill="#000"/><rect x="195.0" y="316.5" width="8.3" height="8.3" fill="#000"/><rect x="208.8" y="306.1" width="8.3" height="8.3" fill="#000"/><rect x="222.2" y="295.7" width="8.3" height="8.3" fill="#000"/><rect x="236.2" y="288.1" width="8.3" height="8.3" fill="#000"/><rect x="248.2" y="277.6" width="8.3" height="8.3" fill="#000"/><rect x="263.2" y="271.1" width="8.3" height="8.3" fill="#000"/><rect x="276.7" y="264.6" width="8.3" height="8.3" fill="#000"/><rect x="286.2" y="258.4" width="8.3" height="8.3" fill="#000"/><rect x="303.1" y="255.2" width="8.3" height="8.3" fill="#000"/><rect x="315.5" y="254.7" width="8.3" height="8.3" fill="#000"/><rect x="329.2" y="243.8" width="8.3" height="8.3" fill="#000"/><rect x="345.0" y="240.2" width="8.3" height="8.3" fill="#000"/><rect x="358.0" y="240.8" width="8.3" height="8.3" fill="#000"/><rect x="371.7" y="233.8" width="8.3" height="8.3" fill="#000"/><rect x="385.4" y="223.4" width="8.3" height="8.3" fill="#000"/><rect x="398.5" y="221.3" width="8.3" height="8.3" fill="#000"/><rect x="411.8" y="223.4" width="8.3" height="8.3" fill="#000"/><rect x="427.2" y="217.4" width="8.3" height="8.3" fill="#000"/><rect x="439.5" y="213.8" width="8.3" height="8.3" fill="#000"/><rect x="454.5" y="214.3" width="8.3" height="8.3" fill="#000"/><rect x="468.2" y="213.0" width="8.3" height="8.3" fill="#000"/><rect x="481.7" y="211.2" width="8.3" height="8.3" fill="#000"/><rect x="495.7" y="210.4" width="8.3" height="8.3" fill="#000"/><rect x="509.1" y="210.9" width="8.3" height="8.3" fill="#000"/><rect x="522.6" y="210.4" width="8.3" height="8.3" fill="#000"/><rect x="536.9" y="211.8" width="8.3" height="8.3" fill="#000"/><rect x="559.5" y="218.2" width="8.3" height="8.3" fill="#000"/><rect x="573.1" y="218.2" width="8.3" height="8.3" fill="#000"/><rect x="588.6" y="218.2" width="8.3" height="8.3" fill="#000"/><rect x="603.6" y="217.4" width="8.3" height="8.3" fill="#000"/><rect x="616.2" y="218.4" width="8.3" height="8.3" fill="#000"/><rect x="629.2" y="220.0" width="8.3" height="8.3" fill="#000"/>
<polyline fill="none" stroke="#ff9919" stroke-width="1.1" points="349.1,215.6 362.1,232.2 376.3,244.4 389.8,254.4 402.8,273.7 416.6,293.1 432.4,343.0 443.8,358.6 459.1,374.7 472.8,416.9 486.3,428.0 499.7,436.3 513.2,438.1 526.7,438.1 540.4,433.0 563.4,438.1 576.9,434.3 592.4,433.0 607.7,431.2 620.2,427.3 633.4,427.0"/><rect x="345.0" y="211.4" width="8.3" height="8.3" fill="#ff9919"/><rect x="358.0" y="228.0" width="8.3" height="8.3" fill="#ff9919"/><rect x="372.2" y="240.2" width="8.3" height="8.3" fill="#ff9919"/><rect x="385.7" y="250.2" width="8.3" height="8.3" fill="#ff9919"/><rect x="398.7" y="269.6" width="8.3" height="8.3" fill="#ff9919"/><rect x="412.5" y="289.0" width="8.3" height="8.3" fill="#ff9919"/><rect x="428.2" y="338.9" width="8.3" height="8.3" fill="#ff9919"/><rect x="439.7" y="354.5" width="8.3" height="8.3" fill="#ff9919"/><rect x="455.0" y="370.6" width="8.3" height="8.3" fill="#ff9919"/><rect x="468.7" y="412.8" width="8.3" height="8.3" fill="#ff9919"/><rect x="482.2" y="423.9" width="8.3" height="8.3" fill="#ff9919"/><rect x="495.6" y="432.2" width="8.3" height="8.3" fill="#ff9919"/><rect x="509.1" y="434.0" width="8.3" height="8.3" fill="#ff9919"/><rect x="522.6" y="434.0" width="8.3" height="8.3" fill="#ff9919"/><rect x="536.2" y="428.9" width="8.3" height="8.3" fill="#ff9919"/><rect x="559.2" y="434.0" width="8.3" height="8.3" fill="#ff9919"/><rect x="572.8" y="430.2" width="8.3" height="8.3" fill="#ff9919"/><rect x="588.2" y="428.9" width="8.3" height="8.3" fill="#ff9919"/><rect x="603.6" y="427.1" width="8.3" height="8.3" fill="#ff9919"/><rect x="616.1" y="423.2" width="8.3" height="8.3" fill="#ff9919"/><rect x="629.2" y="422.9" width="8.3" height="8.3" fill="#ff9919"/>
<polyline fill="none" stroke="#00ff00" stroke-width="1.7" points="307.4,435.0 319.5,412.0 333.5,372.4 349.1,299.7 362.1,264.1 375.8,237.9 389.2,232.7 402.4,231.1 415.9,222.4 431.4,219.8 443.6,221.6 458.6,218.5 472.4,221.1 485.8,215.4 499.8,218.0 513.3,215.9 526.8,216.4 541.0,215.1 563.6,215.1 577.2,215.1 592.7,215.1 607.7,215.1 620.4,215.1 633.4,215.1"/><rect x="303.2" y="430.9" width="8.3" height="8.3" fill="#00ff00"/><rect x="315.4" y="407.9" width="8.3" height="8.3" fill="#00ff00"/><rect x="329.4" y="368.2" width="8.3" height="8.3" fill="#00ff00"/><rect x="345.0" y="295.6" width="8.3" height="8.3" fill="#00ff00"/><rect x="358.0" y="260.0" width="8.3" height="8.3" fill="#00ff00"/><rect x="371.7" y="233.8" width="8.3" height="8.3" fill="#00ff00"/><rect x="385.1" y="228.5" width="8.3" height="8.3" fill="#00ff00"/><rect x="398.2" y="226.9" width="8.3" height="8.3" fill="#00ff00"/><rect x="411.8" y="218.2" width="8.3" height="8.3" fill="#00ff00"/><rect x="427.2" y="215.7" width="8.3" height="8.3" fill="#00ff00"/><rect x="439.5" y="217.4" width="8.3" height="8.3" fill="#00ff00"/><rect x="454.5" y="214.3" width="8.3" height="8.3" fill="#00ff00"/><rect x="468.2" y="216.9" width="8.3" height="8.3" fill="#00ff00"/><rect x="481.7" y="211.2" width="8.3" height="8.3" fill="#00ff00"/><rect x="495.7" y="213.8" width="8.3" height="8.3" fill="#00ff00"/><rect x="509.1" y="211.8" width="8.3" height="8.3" fill="#00ff00"/><rect x="522.6" y="212.2" width="8.3" height="8.3" fill="#00ff00"/><rect x="536.9" y="210.9" width="8.3" height="8.3" fill="#00ff00"/><rect x="559.5" y="210.9" width="8.3" height="8.3" fill="#00ff00"/><rect x="573.1" y="210.9" width="8.3" height="8.3" fill="#00ff00"/><rect x="588.6" y="210.9" width="8.3" height="8.3" fill="#00ff00"/><rect x="603.6" y="210.9" width="8.3" height="8.3" fill="#00ff00"/><rect x="616.2" y="210.9" width="8.3" height="8.3" fill="#00ff00"/><rect x="629.2" y="210.9" width="8.3" height="8.3" fill="#00ff00"/>
<polyline fill="none" stroke="#0000ff" stroke-width="1.5" points="485.8,215.4 499.8,271.3 513.4,322.1 527.0,336.9 540.6,386.1 563.7,404.5 577.2,401.9 592.7,410.4 608.0,418.7 620.4,423.9 633.4,422.0"/><rect x="481.7" y="211.2" width="8.3" height="8.3" fill="#0000ff"/><rect x="495.7" y="267.2" width="8.3" height="8.3" fill="#0000ff"/><rect x="509.2" y="318.0" width="8.3" height="8.3" fill="#0000ff"/><rect x="522.9" y="332.8" width="8.3" height="8.3" fill="#0000ff"/><rect x="536.5" y="382.0" width="8.3" height="8.3" fill="#0000ff"/><rect x="559.6" y="400.4" width="8.3" height="8.3" fill="#0000ff"/><rect x="573.1" y="397.8" width="8.3" height="8.3" fill="#0000ff"/><rect x="588.6" y="406.2" width="8.3" height="8.3" fill="#0000ff"/><rect x="603.9" y="414.6" width="8.3" height="8.3" fill="#0000ff"/><rect x="616.2" y="419.8" width="8.3" height="8.3" fill="#0000ff"/><rect x="629.2" y="417.9" width="8.3" height="8.3" fill="#0000ff"/>
<line x1="79.5" y1="212.8" x2="79.5" y2="441" stroke="#000" stroke-width="2"/>
<line x1="78.5" y1="440.2" x2="662.6" y2="441.2" stroke="#000" stroke-width="2"/>
<line x1="73.8" y1="439.8" x2="79.5" y2="439.8" stroke="#000" stroke-width="1.5"/>
<text transform="translate(66.3,445.3) scale(1,1.045)" text-anchor="end">0</text>
<line x1="73.8" y1="417.2" x2="79.5" y2="417.2" stroke="#000" stroke-width="1.5"/>
<text transform="translate(66.3,422.8) scale(1,1.045)" text-anchor="end">10</text>
<line x1="73.8" y1="394.6" x2="79.5" y2="394.6" stroke="#000" stroke-width="1.5"/>
<text transform="translate(66.3,400.4) scale(1,1.045)" text-anchor="end">20</text>
<line x1="73.8" y1="371.9" x2="79.5" y2="371.9" stroke="#000" stroke-width="1.5"/>
<text transform="translate(66.3,377.9) scale(1,1.045)" text-anchor="end">30</text>
<line x1="73.8" y1="349.3" x2="79.5" y2="349.3" stroke="#000" stroke-width="1.5"/>
<text transform="translate(66.3,355.5) scale(1,1.045)" text-anchor="end">40</text>
<line x1="73.8" y1="326.7" x2="79.5" y2="326.7" stroke="#000" stroke-width="1.5"/>
<text transform="translate(66.3,333.0) scale(1,1.045)" text-anchor="end">50</text>
<line x1="73.8" y1="304.1" x2="79.5" y2="304.1" stroke="#000" stroke-width="1.5"/>
<text transform="translate(66.3,310.5) scale(1,1.045)" text-anchor="end">60</text>
<line x1="73.8" y1="281.5" x2="79.5" y2="281.5" stroke="#000" stroke-width="1.5"/>
<text transform="translate(66.3,288.1) scale(1,1.045)" text-anchor="end">70</text>
<line x1="73.8" y1="258.8" x2="79.5" y2="258.8" stroke="#000" stroke-width="1.5"/>
<text transform="translate(66.3,265.6) scale(1,1.045)" text-anchor="end">80</text>
<line x1="73.8" y1="236.2" x2="79.5" y2="236.2" stroke="#000" stroke-width="1.5"/>
<text transform="translate(66.3,243.2) scale(1,1.045)" text-anchor="end">90</text>
<line x1="73.8" y1="213.6" x2="79.5" y2="213.6" stroke="#000" stroke-width="1.5"/>
<text transform="translate(66.3,220.7) scale(1,1.045)" text-anchor="end">100</text>
<line x1="80.3" y1="439.5" x2="80.3" y2="446.2" stroke="#000" stroke-width="1.5"/>
<text transform="translate(85.1,455) rotate(-90) scale(1,1.045)" text-anchor="end">0</text>
<line x1="128.7" y1="439.5" x2="128.7" y2="446.2" stroke="#000" stroke-width="1.5"/>
<text transform="translate(133.5,455) rotate(-90) scale(1,1.045)" text-anchor="end">25</text>
<line x1="177.1" y1="439.5" x2="177.1" y2="446.2" stroke="#000" stroke-width="1.5"/>
<text transform="translate(181.9,455) rotate(-90) scale(1,1.045)" text-anchor="end">50</text>
<line x1="225.5" y1="439.5" x2="225.5" y2="446.2" stroke="#000" stroke-width="1.5"/>
<text transform="translate(230.3,455) rotate(-90) scale(1,1.045)" text-anchor="end">75</text>
<line x1="273.9" y1="439.5" x2="273.9" y2="446.2" stroke="#000" stroke-width="1.5"/>
<text transform="translate(278.7,455) rotate(-90) scale(1,1.045)" text-anchor="end">100</text>
<line x1="322.3" y1="439.5" x2="322.3" y2="446.2" stroke="#000" stroke-width="1.5"/>
<text transform="translate(327.1,455) rotate(-90) scale(1,1.045)" text-anchor="end">125</text>
<line x1="370.7" y1="439.5" x2="370.7" y2="446.2" stroke="#000" stroke-width="1.5"/>
<text transform="translate(375.5,455) rotate(-90) scale(1,1.045)" text-anchor="end">150</text>
<line x1="419.1" y1="439.5" x2="419.1" y2="446.2" stroke="#000" stroke-width="1.5"/>
<text transform="translate(423.9,455) rotate(-90) scale(1,1.045)" text-anchor="end">175</text>
<line x1="467.5" y1="439.5" x2="467.5" y2="446.2" stroke="#000" stroke-width="1.5"/>
<text transform="translate(472.3,455) rotate(-90) scale(1,1.045)" text-anchor="end">200</text>
<line x1="515.9" y1="439.5" x2="515.9" y2="446.2" stroke="#000" stroke-width="1.5"/>
<text transform="translate(520.7,455) rotate(-90) scale(1,1.045)" text-anchor="end">225</text>
<line x1="564.3" y1="439.5" x2="564.3" y2="446.2" stroke="#000" stroke-width="1.5"/>
<text transform="translate(569.1,455) rotate(-90) scale(1,1.045)" text-anchor="end">250</text>
<line x1="612.7" y1="439.5" x2="612.7" y2="446.2" stroke="#000" stroke-width="1.5"/>
<text transform="translate(617.5,455) rotate(-90) scale(1,1.045)" text-anchor="end">275</text>
<line x1="661.1" y1="439.5" x2="661.1" y2="446.2" stroke="#000" stroke-width="1.5"/>
<text transform="translate(665.9,455) rotate(-90) scale(1,1.045)" text-anchor="end">300</text>
<rect x="90.5" y="193.5" width="125.5" height="94.5" fill="#fff" stroke="#5a5a5a" stroke-width="0.9"/>
<line x1="97" y1="206" x2="124" y2="206" stroke="#000" stroke-width="1.15"/>
<rect x="106.8" y="202.2" width="7.6" height="7.6" fill="#000"/>
<text transform="translate(127.6,211.1) scale(1,1.045)">Fruit weight</text>
<line x1="97" y1="230" x2="124" y2="230" stroke="#ff9919" stroke-width="1.15"/>
<rect x="106.8" y="226.2" width="7.6" height="7.6" fill="#ff9919"/>
<text transform="translate(127.6,235.1) scale(1,1.045)">Flesh colour</text>
<line x1="97" y1="254" x2="124" y2="254" stroke="#00ff00" stroke-width="1.15"/>
<rect x="106.8" y="250.2" width="7.6" height="7.6" fill="#00ff00"/>
<text transform="translate(127.6,259.1) scale(1,1.045)">Seed colour</text>
<line x1="97" y1="278" x2="124" y2="278" stroke="#0000ff" stroke-width="1.15"/>
<rect x="106.8" y="274.2" width="7.6" height="7.6" fill="#0000ff"/>
<text transform="translate(127.6,283.1) scale(1,1.045)">Firmess</text>
<text transform="translate(30.2,326.6) rotate(-90) scale(1,1.045)" class="b" text-anchor="middle" style="font-size:13.6px">Normalised value (%)</text>
<text transform="translate(14.5,472.3) scale(1,1.045)" class="b">DAA</text>
<text transform="translate(14.5,506.2) scale(1,1.045)" class="b">BBCH</text>
<text transform="translate(82.6,506.2) scale(1,1.045)" text-anchor="middle">65 70</text>
<text transform="translate(188.1,506.2) scale(1,1.045)" text-anchor="middle">75</text>
<text transform="translate(309.3,506.2) scale(1,1.045)" text-anchor="middle">78</text>
<text transform="translate(349.8,506.2) scale(1,1.045)" text-anchor="middle">79</text>
<text transform="translate(380.1,506.2) scale(1,1.045)" text-anchor="middle">80</text>
<text transform="translate(477.2,506.2) scale(1,1.045)" text-anchor="middle">85 87</text>
<text transform="translate(541.7,506.2) scale(1,1.045)" text-anchor="middle">89</text>
<text transform="translate(597.4,506.2) scale(1,1.045)" text-anchor="middle">90</text>
<text transform="translate(628.2,506.2) scale(1,1.045)" text-anchor="middle">92</text>
</g>
<line x1="105.8" y1="147.5" x2="87.1" y2="183.1" stroke="#000" stroke-width="3.6"/><polygon points="82.2,192.4 82.9,179.8 92.2,184.7" fill="#000"/>
<line x1="257.8" y1="164.8" x2="246.0" y2="183.5" stroke="#000" stroke-width="3.6"/><polygon points="240.4,192.4 242.1,179.9 251.0,185.5" fill="#000"/>
<line x1="373.8" y1="166.4" x2="357.7" y2="184.6" stroke="#000" stroke-width="3.6"/><polygon points="350.7,192.4 354.4,180.3 362.3,187.3" fill="#000"/>
<line x1="492.5" y1="172.1" x2="476.8" y2="185.6" stroke="#000" stroke-width="3.6"/><polygon points="468.8,192.4 474.1,180.9 480.9,188.9" fill="#000"/>
<rect x="96" y="518.9" width="280" height="15.2" fill="url(#gExp)"/>
<rect x="384" y="518.9" width="170" height="15.2" fill="url(#gRip)"/>
<rect x="591.5" y="518.9" width="86" height="15.2" fill="url(#gSen)"/>
<text transform="translate(217.3,532) scale(1,1.045)" text-anchor="middle">Fruit expansion</text>
<text transform="translate(472.8,532) scale(1,1.045)" text-anchor="middle">Fruit ripening</text>
<text transform="translate(631,532) scale(1,1.045)" text-anchor="middle">Senescence</text>
<rect x="66.8" y="542" width="20.5" height="16.4" fill="#00ff00"/>
<text transform="translate(82.9,574.3) scale(1,1.045)" text-anchor="middle">Open flower</text>
<rect x="82.9" y="579.5" width="7.7" height="15" fill="#1ca9ee"/>
<text transform="translate(94.4,610.3) scale(1,1.045)" text-anchor="middle">Fruit set</text>
<rect x="351.5" y="541.5" width="55" height="15.3" fill="url(#gMat)"/>
<text transform="translate(385,574.3) scale(1,1.045)" text-anchor="middle">Mature fruit</text>
<rect x="533" y="540.3" width="77" height="15.2" fill="url(#gEat)"/>
<text transform="translate(576.2,574.3) scale(1,1.045)" text-anchor="middle">Eating ripe</text>
</svg></body></html>
